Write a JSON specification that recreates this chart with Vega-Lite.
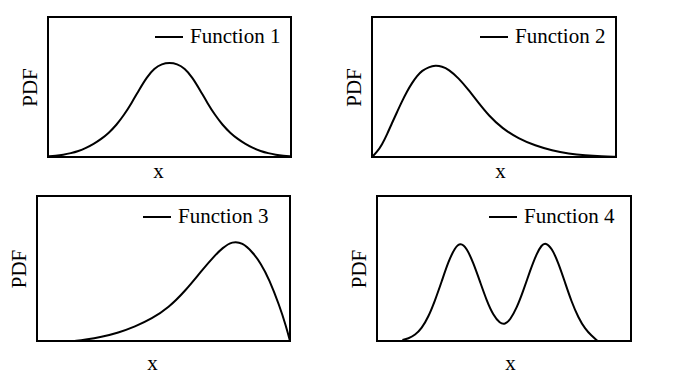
{
  "$schema": "https://vega.github.io/schema/vega-lite/v6.json",
  "background": "white",
  "padding": {"left": 7, "top": 16, "right": 5, "bottom": 5},
  "config": {
    "view": {"stroke": "black", "strokeWidth": 2},
    "axis": {"domain": false, "ticks": false, "labels": false, "grid": false, "titleFont": "Liberation Serif", "titleFontSize": 21, "titleFontWeight": "normal", "titleColor": "black"},
    "legend": {"orient": "none", "title": null, "symbolType": "stroke", "symbolStrokeWidth": 2, "symbolSize": 784, "symbolStrokeColor": "black", "labelFont": "Liberation Serif", "labelFontSize": 21, "labelColor": "black", "padding": 0, "labelOffset": 6},
    "line": {"interpolate": "basis", "strokeWidth": 2, "color": "black"}
  },
  "center": true,
  "spacing": 13,
  "resolve": {"scale": {"color": "independent", "x": "independent", "y": "independent"}, "legend": {"color": "independent"}},
  "vconcat": [
    {
      "spacing": 81,
      "bounds": "flush",
      "resolve": {"scale": {"color": "independent", "x": "independent", "y": "independent"}, "legend": {"color": "independent"}},
      "hconcat": [
        {
          "width": 243, "height": 140,
          "data": {"values": [
            {"x": -4, "pdf": 0.004, "name": "Function 1"},
            {"x": -3.75, "pdf": 0.009, "name": "Function 1"},
            {"x": -3.5, "pdf": 0.016, "name": "Function 1"},
            {"x": -3.25, "pdf": 0.027, "name": "Function 1"},
            {"x": -3, "pdf": 0.042, "name": "Function 1"},
            {"x": -2.75, "pdf": 0.064, "name": "Function 1"},
            {"x": -2.5, "pdf": 0.093, "name": "Function 1"},
            {"x": -2.25, "pdf": 0.128, "name": "Function 1"},
            {"x": -2, "pdf": 0.172, "name": "Function 1"},
            {"x": -1.75, "pdf": 0.228, "name": "Function 1"},
            {"x": -1.5, "pdf": 0.299, "name": "Function 1"},
            {"x": -1.25, "pdf": 0.385, "name": "Function 1"},
            {"x": -1, "pdf": 0.48, "name": "Function 1"},
            {"x": -0.75, "pdf": 0.57, "name": "Function 1"},
            {"x": -0.5, "pdf": 0.634, "name": "Function 1"},
            {"x": -0.25, "pdf": 0.666, "name": "Function 1"},
            {"x": 0, "pdf": 0.674, "name": "Function 1"},
            {"x": 0.25, "pdf": 0.666, "name": "Function 1"},
            {"x": 0.5, "pdf": 0.634, "name": "Function 1"},
            {"x": 0.75, "pdf": 0.57, "name": "Function 1"},
            {"x": 1, "pdf": 0.48, "name": "Function 1"},
            {"x": 1.25, "pdf": 0.385, "name": "Function 1"},
            {"x": 1.5, "pdf": 0.299, "name": "Function 1"},
            {"x": 1.75, "pdf": 0.228, "name": "Function 1"},
            {"x": 2, "pdf": 0.172, "name": "Function 1"},
            {"x": 2.25, "pdf": 0.128, "name": "Function 1"},
            {"x": 2.5, "pdf": 0.093, "name": "Function 1"},
            {"x": 2.75, "pdf": 0.064, "name": "Function 1"},
            {"x": 3, "pdf": 0.042, "name": "Function 1"},
            {"x": 3.25, "pdf": 0.027, "name": "Function 1"},
            {"x": 3.5, "pdf": 0.016, "name": "Function 1"},
            {"x": 3.75, "pdf": 0.009, "name": "Function 1"},
            {"x": 4, "pdf": 0.004, "name": "Function 1"}
          ]},
          "mark": {"type": "line"},
          "encoding": {
            "x": {"field": "x", "type": "quantitative", "scale": {"domain": [-4, 4], "nice": false, "zero": false}, "axis": {"title": "x", "titlePadding": 3, "titleX": 110}},
            "y": {"field": "pdf", "type": "quantitative", "scale": {"domain": [0, 1], "nice": false}, "axis": {"title": "PDF", "titlePadding": 8}},
            "color": {"field": "name", "type": "nominal", "scale": {"range": ["black"]}, "legend": {"legendX": 106, "legendY": 5}}
          }
        },
        {
          "width": 244, "height": 140,
          "data": {"values": [
            {"x": 0, "pdf": 0, "name": "Function 2"},
            {"x": 0.2, "pdf": 0.035, "name": "Function 2"},
            {"x": 0.41, "pdf": 0.088, "name": "Function 2"},
            {"x": 0.62, "pdf": 0.163, "name": "Function 2"},
            {"x": 0.82, "pdf": 0.243, "name": "Function 2"},
            {"x": 1.03, "pdf": 0.322, "name": "Function 2"},
            {"x": 1.23, "pdf": 0.398, "name": "Function 2"},
            {"x": 1.44, "pdf": 0.47, "name": "Function 2"},
            {"x": 1.64, "pdf": 0.529, "name": "Function 2"},
            {"x": 1.85, "pdf": 0.58, "name": "Function 2"},
            {"x": 2.05, "pdf": 0.617, "name": "Function 2"},
            {"x": 2.33, "pdf": 0.643, "name": "Function 2"},
            {"x": 2.6, "pdf": 0.654, "name": "Function 2"},
            {"x": 2.87, "pdf": 0.647, "name": "Function 2"},
            {"x": 3.14, "pdf": 0.626, "name": "Function 2"},
            {"x": 3.55, "pdf": 0.564, "name": "Function 2"},
            {"x": 3.96, "pdf": 0.479, "name": "Function 2"},
            {"x": 4.37, "pdf": 0.386, "name": "Function 2"},
            {"x": 4.78, "pdf": 0.297, "name": "Function 2"},
            {"x": 5.33, "pdf": 0.205, "name": "Function 2"},
            {"x": 6.01, "pdf": 0.131, "name": "Function 2"},
            {"x": 6.69, "pdf": 0.081, "name": "Function 2"},
            {"x": 7.38, "pdf": 0.046, "name": "Function 2"},
            {"x": 8.06, "pdf": 0.024, "name": "Function 2"},
            {"x": 8.74, "pdf": 0.011, "name": "Function 2"},
            {"x": 9.43, "pdf": 0.004, "name": "Function 2"},
            {"x": 10, "pdf": 0.001, "name": "Function 2"}
          ]},
          "mark": {"type": "line"},
          "encoding": {
            "x": {"field": "x", "type": "quantitative", "scale": {"domain": [0, 10], "nice": false, "zero": false}, "axis": {"title": "x", "titlePadding": 3, "titleX": 128}},
            "y": {"field": "pdf", "type": "quantitative", "scale": {"domain": [0, 1], "nice": false}, "axis": {"title": "PDF", "titlePadding": 8}},
            "color": {"field": "name", "type": "nominal", "scale": {"range": ["black"]}, "legend": {"legendX": 107, "legendY": 5}}
          }
        }
      ]
    },
    {
      "spacing": 87,
      "bounds": "flush",
      "resolve": {"scale": {"color": "independent", "x": "independent", "y": "independent"}, "legend": {"color": "independent"}},
      "hconcat": [
        {
          "width": 253, "height": 145,
          "data": {"values": [
            {"x": 1.49, "pdf": 0, "name": "Function 3"},
            {"x": 1.88, "pdf": 0.009, "name": "Function 3"},
            {"x": 2.55, "pdf": 0.028, "name": "Function 3"},
            {"x": 3.21, "pdf": 0.057, "name": "Function 3"},
            {"x": 3.87, "pdf": 0.099, "name": "Function 3"},
            {"x": 4.54, "pdf": 0.154, "name": "Function 3"},
            {"x": 5.2, "pdf": 0.23, "name": "Function 3"},
            {"x": 5.86, "pdf": 0.345, "name": "Function 3"},
            {"x": 6.53, "pdf": 0.49, "name": "Function 3"},
            {"x": 7.06, "pdf": 0.595, "name": "Function 3"},
            {"x": 7.32, "pdf": 0.64, "name": "Function 3"},
            {"x": 7.72, "pdf": 0.688, "name": "Function 3"},
            {"x": 8.12, "pdf": 0.678, "name": "Function 3"},
            {"x": 8.51, "pdf": 0.615, "name": "Function 3"},
            {"x": 8.85, "pdf": 0.535, "name": "Function 3"},
            {"x": 9.18, "pdf": 0.425, "name": "Function 3"},
            {"x": 9.58, "pdf": 0.245, "name": "Function 3"},
            {"x": 9.84, "pdf": 0.105, "name": "Function 3"},
            {"x": 10, "pdf": 0, "name": "Function 3"}
          ]},
          "mark": {"type": "line"},
          "encoding": {
            "x": {"field": "x", "type": "quantitative", "scale": {"domain": [0, 10], "nice": false, "zero": false}, "axis": {"title": "x", "titlePadding": 11, "titleX": 115}},
            "y": {"field": "pdf", "type": "quantitative", "scale": {"domain": [0, 1], "nice": false}, "axis": {"title": "PDF", "titlePadding": 8}},
            "color": {"field": "name", "type": "nominal", "scale": {"range": ["black"]}, "legend": {"legendX": 105, "legendY": 6}}
          }
        },
        {
          "width": 254, "height": 145,
          "data": {"values": [
            {"x": 1.0, "pdf": 0.007, "name": "Function 4"},
            {"x": 1.23, "pdf": 0.017, "name": "Function 4"},
            {"x": 1.5, "pdf": 0.041, "name": "Function 4"},
            {"x": 1.76, "pdf": 0.087, "name": "Function 4"},
            {"x": 2.02, "pdf": 0.165, "name": "Function 4"},
            {"x": 2.28, "pdf": 0.277, "name": "Function 4"},
            {"x": 2.55, "pdf": 0.412, "name": "Function 4"},
            {"x": 2.81, "pdf": 0.548, "name": "Function 4"},
            {"x": 3.07, "pdf": 0.645, "name": "Function 4"},
            {"x": 3.29, "pdf": 0.678, "name": "Function 4"},
            {"x": 3.53, "pdf": 0.642, "name": "Function 4"},
            {"x": 3.79, "pdf": 0.54, "name": "Function 4"},
            {"x": 4.06, "pdf": 0.407, "name": "Function 4"},
            {"x": 4.32, "pdf": 0.277, "name": "Function 4"},
            {"x": 4.58, "pdf": 0.177, "name": "Function 4"},
            {"x": 4.84, "pdf": 0.122, "name": "Function 4"},
            {"x": 5.04, "pdf": 0.114, "name": "Function 4"},
            {"x": 5.24, "pdf": 0.145, "name": "Function 4"},
            {"x": 5.5, "pdf": 0.227, "name": "Function 4"},
            {"x": 5.76, "pdf": 0.346, "name": "Function 4"},
            {"x": 6.02, "pdf": 0.482, "name": "Function 4"},
            {"x": 6.29, "pdf": 0.605, "name": "Function 4"},
            {"x": 6.48, "pdf": 0.662, "name": "Function 4"},
            {"x": 6.64, "pdf": 0.678, "name": "Function 4"},
            {"x": 6.88, "pdf": 0.642, "name": "Function 4"},
            {"x": 7.14, "pdf": 0.539, "name": "Function 4"},
            {"x": 7.4, "pdf": 0.405, "name": "Function 4"},
            {"x": 7.66, "pdf": 0.27, "name": "Function 4"},
            {"x": 7.93, "pdf": 0.16, "name": "Function 4"},
            {"x": 8.19, "pdf": 0.084, "name": "Function 4"},
            {"x": 8.45, "pdf": 0.035, "name": "Function 4"},
            {"x": 8.69, "pdf": 0, "name": "Function 4"}
          ]},
          "mark": {"type": "line"},
          "encoding": {
            "x": {"field": "x", "type": "quantitative", "scale": {"domain": [0, 10], "nice": false, "zero": false}, "axis": {"title": "x", "titlePadding": 11, "titleX": 133}},
            "y": {"field": "pdf", "type": "quantitative", "scale": {"domain": [0, 1], "nice": false}, "axis": {"title": "PDF", "titlePadding": 8}},
            "color": {"field": "name", "type": "nominal", "scale": {"range": ["black"]}, "legend": {"legendX": 111, "legendY": 6}}
          }
        }
      ]
    }
  ]
}
